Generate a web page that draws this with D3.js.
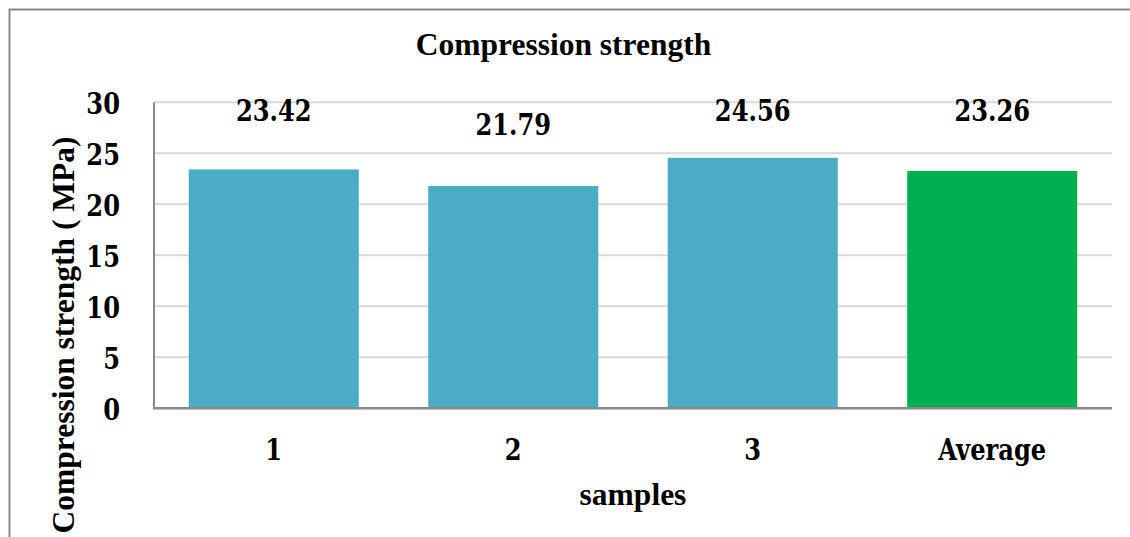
<!DOCTYPE html>
<html>
<head>
<meta charset="utf-8">
<script src="https://cdn.jsdelivr.net/npm/d3@7/dist/d3.min.js"></script>
<style>
  html, body { margin: 0; padding: 0; background: #fff; }
  svg { display: block; }
  text.num { font-family: "DejaVu Serif", serif; font-weight: bold; }
  text.tnr { font-family: "Liberation Serif", "Times New Roman", serif; font-weight: bold; }
</style>
</head>
<body>
<svg id="chart" width="1130" height="537"></svg>
<script>
const categories = ["1", "2", "3", "Average"];
const values = [23.42, 21.79, 24.56, 23.26];
const barColors = ["#4BACC6", "#4BACC6", "#4BACC6", "#00B050"];
const yTicks = [0, 5, 10, 15, 20, 25, 30];
const chartTitle = "Compression strength";
const xTitle = "samples";
const yTitle = "Compression strength ( MPa)";

const svg = d3.select("#chart");
const W = 1130, H = 537;
const plot = { left: 154, right: 1112, top: 102.3, bottom: 408.3 };
const SX = 0.82;      // horizontal squeeze to mimic a condensed serif
const NUM_SIZE = 29.5;

svg.append("rect")
  .attr("x", 9.5).attr("y", 9.5)
  .attr("width", W + 20).attr("height", H + 20)
  .attr("fill", "#fff").attr("stroke", "#898989").attr("stroke-width", 2);

const x = d3.scaleBand().domain(categories).range([plot.left, plot.right]).paddingInner(0.29).paddingOuter(0.145);
const y = d3.scaleLinear().domain([0, 30]).range([plot.bottom, plot.top]);

// gridlines
svg.append("g").selectAll("line").data(yTicks.filter(d => d > 0)).join("line")
  .attr("x1", plot.left).attr("x2", plot.right)
  .attr("y1", d => y(d)).attr("y2", d => y(d))
  .attr("stroke", "#d9d9d9").attr("stroke-width", 2);

// bars
svg.append("g").selectAll("rect").data(values).join("rect")
  .attr("x", (d, i) => x(categories[i]))
  .attr("width", x.bandwidth())
  .attr("y", d => y(d))
  .attr("height", d => y(0) - y(d))
  .attr("fill", (d, i) => barColors[i]);

// axis lines
svg.append("line").attr("x1", plot.left).attr("x2", plot.left)
  .attr("y1", plot.top).attr("y2", plot.bottom)
  .attr("stroke", "#898989").attr("stroke-width", 2);
svg.append("line").attr("x1", plot.left - 1).attr("x2", plot.right)
  .attr("y1", plot.bottom).attr("y2", plot.bottom)
  .attr("stroke", "#898989").attr("stroke-width", 2.5);

// y tick labels
const yAxis = d3.axisLeft(y).tickValues(yTicks).tickSize(0).tickPadding(0).tickFormat(d3.format("d"));
const gy = svg.append("g").attr("transform", `translate(${plot.left},0)`).call(yAxis);
gy.attr("font-family", null).attr("font-size", null);
gy.select(".domain").remove();
gy.selectAll("text").attr("class", "num").attr("font-size", NUM_SIZE).attr("fill", "#000")
  .attr("x", -34 / SX).attr("dy", 10.8).attr("transform", `scale(${SX},1)`);

// x tick labels
const xAxis = d3.axisBottom(x).tickSize(0).tickPadding(0);
const gx = svg.append("g").attr("transform", `translate(0,${plot.bottom})`).call(xAxis);
gx.attr("font-family", null).attr("font-size", null);
gx.select(".domain").remove();
gx.selectAll("text").attr("class", "num").attr("font-size", NUM_SIZE).attr("fill", "#000")
  .attr("y", 52).attr("dy", 0).attr("transform", `scale(${SX},1)`);

// data labels
svg.append("g").selectAll("text").data(values).join("text")
  .attr("class", "num").attr("font-size", NUM_SIZE).attr("fill", "#000")
  .attr("text-anchor", "middle")
  .attr("transform", `scale(${SX},1)`)
  .attr("x", (d, i) => (x(categories[i]) + x.bandwidth() / 2) / SX)
  .attr("y", d => Math.max(y(d) - 51, 121))
  .text(d => d.toFixed(2));

// titles
svg.append("text").attr("class", "tnr").attr("font-size", 31.5).attr("fill", "#000")
  .attr("text-anchor", "middle").attr("x", 563.5).attr("y", 54.5)
  .text(chartTitle);
svg.append("text").attr("class", "tnr").attr("font-size", 31.5).attr("fill", "#000")
  .attr("text-anchor", "middle").attr("x", 633).attr("y", 504.5)
  .text(xTitle);
svg.append("text").attr("class", "tnr").attr("font-size", 31.5).attr("fill", "#000")
  .attr("text-anchor", "middle")
  .attr("transform", "translate(74,335) rotate(-90)")
  .text(yTitle);
</script>
</body>
</html>
